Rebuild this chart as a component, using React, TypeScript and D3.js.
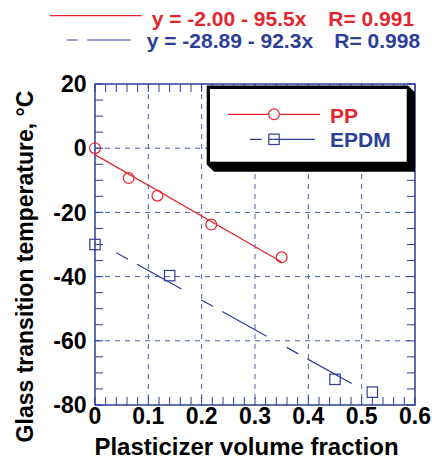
import React from "react";
import * as d3 from "d3";

const ppX = [0, 0.063, 0.117, 0.218, 0.35];
const ppY = [0, -9.3, -14.8, -23.8, -34];
const epdmX = [0, 0.14, 0.45, 0.52];
const epdmY = [-30, -39.7, -72, -76];
const ppFit = { a: -2.0, b: -95.5, from: 0, to: 0.35 };
const epdmFit = { a: -28.89, b: -92.3, from: 0.04, to: 0.483 };
const xTicks = [0, 0.1, 0.2, 0.3, 0.4, 0.5, 0.6];
const xTickLabels = ["0", "0.1", "0.2", "0.3", "0.4", "0.5", "0.6"];
const yTicks = [20, 0, -20, -40, -60, -80];
const yTickLabels = ["20", "0", "-20", "-40", "-60", "-80"];
const ppEq = "y = -2.00 - 95.5x";
const ppR = "R= 0.991";
const epdmEq = "y = -28.89 - 92.3x";
const epdmR = "R= 0.998";
const seriesNames = ["PP", "EPDM"];
const xTitle = "Plasticizer volume fraction";
const yTitle = "Glass transition temperature, \u00B0C";

const RED = "#e3262e";
const BLUE = "#2c3e97";
const GRID = "#4a5cad";
const FONT = "'Liberation Sans', Arial, sans-serif";

export default function App() {
  const x = d3.scaleLinear().domain([0, 0.6]).range([95, 415]);
  const y = d3.scaleLinear().domain([-80, 20]).range([405, 84]);
  const [x0, x1] = x.range();
  const [y0, y1] = y.range();

  const minorX = d3.range(0, 0.6001, 0.02);
  const minorY = d3.range(-80, 20.001, 5);

  const line = d3
    .line<[number, number]>()
    .x((d) => x(d[0]))
    .y((d) => y(d[1]));

  const fitPts = (f: typeof ppFit): [number, number][] => [
    [f.from, f.a + f.b * f.from],
    [f.to, f.a + f.b * f.to],
  ];

  const tl = 8;

  return (
    <svg
      width={432}
      height={459}
      style={{ position: "absolute", left: 0, top: 0, background: "#fff" }}
      fontFamily={FONT}
      fontWeight="bold"
    >
      {/* header equations */}
      <line x1={50} x2={141.7} y1={15.7} y2={15.7} stroke={RED} strokeWidth={1.2} />
      <text x={151.7} y={25.5} fontSize={21} fill={RED}>{ppEq}</text>
      <text x={328.3} y={25.5} fontSize={21} fill={RED}>{ppR}</text>
      <line x1={66.7} x2={130.7} y1={40} y2={40} stroke={BLUE} strokeWidth={1.2} strokeDasharray="11 9.6 44 100" />
      <text x={146.7} y={48} fontSize={21} fill={BLUE}>{epdmEq}</text>
      <text x={334.3} y={48} fontSize={21} fill={BLUE}>{epdmR}</text>

      {/* grid */}
      {xTicks.slice(1, -1).map((t) => (
        <line key={"gx" + t} x1={x(t)} x2={x(t)} y1={y1} y2={y0} stroke={GRID} strokeWidth={1} strokeDasharray="5 5" />
      ))}
      {yTicks.slice(1, -1).map((t) => (
        <line key={"gy" + t} x1={x0} x2={x1} y1={y(t)} y2={y(t)} stroke={GRID} strokeWidth={1} strokeDasharray="5 5" />
      ))}

      {/* minor ticks */}
      {minorX.map((t, i) => (
        <g key={"tx" + i}>
          <line x1={x(t)} x2={x(t)} y1={y0} y2={y0 - tl} stroke={BLUE} strokeWidth={1} />
          <line x1={x(t)} x2={x(t)} y1={y1} y2={y1 + tl} stroke={BLUE} strokeWidth={1} />
        </g>
      ))}
      {minorY.map((t, i) => (
        <g key={"ty" + i}>
          <line x1={x0} x2={x0 + tl} y1={y(t)} y2={y(t)} stroke={BLUE} strokeWidth={1} />
          <line x1={x1} x2={x1 - tl} y1={y(t)} y2={y(t)} stroke={BLUE} strokeWidth={1} />
        </g>
      ))}

      {/* frame */}
      <rect x={x0} y={y1} width={x1 - x0} height={y0 - y1} fill="none" stroke={BLUE} strokeWidth={1.5} />

      {/* tick labels */}
      {xTicks.map((t, i) => (
        <text key={"xl" + i} x={x(t)} y={424} fontSize={23} textAnchor="middle" fill="#000">
          {xTickLabels[i]}
        </text>
      ))}
      {yTicks.map((t, i) => (
        <text key={"yl" + i} x={86.5} y={y(t) + 8.2} fontSize={23} textAnchor="end" fill="#000">
          {yTickLabels[i]}
        </text>
      ))}

      {/* axis titles */}
      <text x={246.5} y={455} fontSize={24} textAnchor="middle" fill="#000">{xTitle}</text>
      <text transform="translate(32.5,266.5) rotate(-90)" fontSize={23} textAnchor="middle" fill="#000">{yTitle}</text>

      {/* fit lines */}
      <path d={line(fitPts(ppFit)) || ""} stroke={RED} strokeWidth={1.2} fill="none" />
      <path d={line(fitPts(epdmFit)) || ""} stroke={BLUE} strokeWidth={1.2} fill="none" strokeDasharray="13.4 10.3 50.8 22.9" />

      {/* markers */}
      {ppX.map((v, i) => (
        <circle key={"pp" + i} cx={x(v)} cy={y(ppY[i])} r={5.4} fill="none" stroke={RED} strokeWidth={1.2} />
      ))}
      {epdmX.map((v, i) => (
        <rect key={"ep" + i} x={x(v) - 5.2} y={y(epdmY[i]) - 5.2} width={10.4} height={10.4} fill="none" stroke={BLUE} strokeWidth={1.2} />
      ))}

      {/* legend */}
      <polygon points="206.7,85.5 408,85.5 415,92.5 415,171.7 214,171.7 206.7,164.5" fill="#000" />
      <rect x={210} y={89} width={196.7} height={72.7} fill="#fff" />
      <line x1={228} x2={320} y1={114.3} y2={114.3} stroke={RED} strokeWidth={1.2} />
      <circle cx={274} cy={114.3} r={5.4} fill="#fff" stroke={RED} strokeWidth={1.2} />
      <text x={330} y={122.7} fontSize={21} fill={RED}>{seriesNames[0]}</text>
      <line x1={250} x2={315} y1={139.3} y2={139.3} stroke={BLUE} strokeWidth={1.2} strokeDasharray="11.7 7.3 46 100" />
      <rect x={268.8} y={134.1} width={10.4} height={10.4} fill="none" stroke={BLUE} strokeWidth={1.2} />
      <text x={330} y={146.7} fontSize={21} fill={BLUE}>{seriesNames[1]}</text>
    </svg>
  );
}
